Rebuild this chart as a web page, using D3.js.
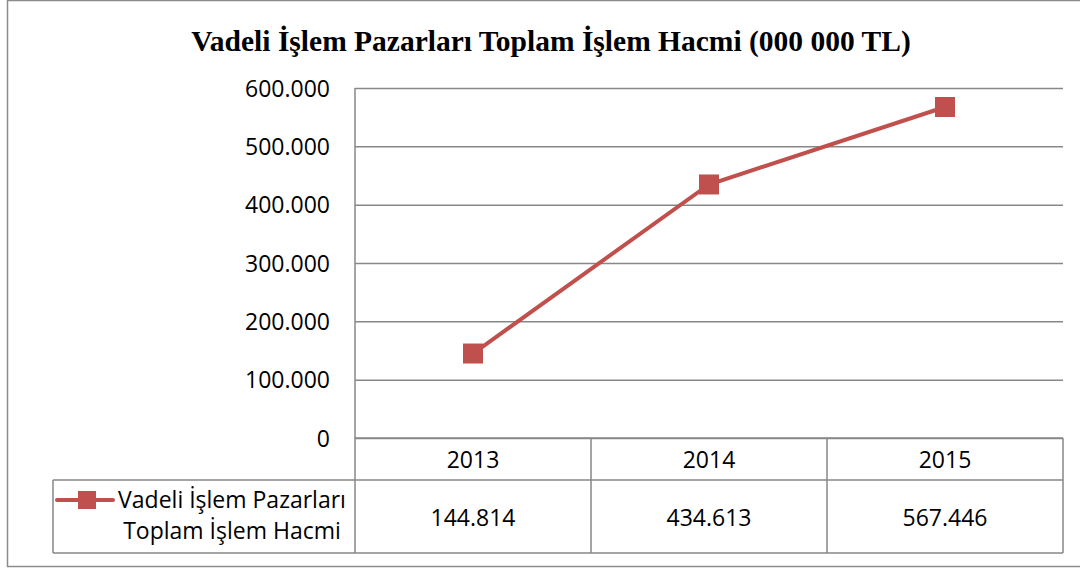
<!DOCTYPE html>
<html>
<head>
<meta charset="utf-8">
<script src="https://cdn.jsdelivr.net/npm/d3@7"></script>
<style>
  body { margin: 0; background: #fff; }
  text { fill: #000; }
</style>
</head>
<body>
<div id="chart-area"></div>
<script>
// data
var years = ["2013", "2014", "2015"];
var volumes = [144814, 434613, 567446];
var yTicks = [0, 100000, 200000, 300000, 400000, 500000, 600000];
var seriesName = ["Vadeli İşlem Pazarları", "Toplam İşlem Hacmi"];
var title = "Vadeli İşlem Pazarları Toplam İşlem Hacmi (000 000 TL)";

var W = 1080, H = 570;
var margin = {top: 88, right: 17, bottom: 132, left: 355};
var width = W - margin.left - margin.right,
    height = H - margin.top - margin.bottom;

var tr = d3.formatLocale({decimal: ",", thousands: ".", grouping: [3], currency: ["", " TL"]});
var fmt = tr.format(",d");

var red = "#c0504d", grid = "#878787";
var labelFont = "'Open Sans', 'Noto Sans', sans-serif";
var labelSize = "23px";

var svg = d3.select("#chart-area").append("svg")
    .attr("width", W)
    .attr("height", H);

// outer frame
svg.append("rect")
    .attr("x", 7.5).attr("y", 0.5)
    .attr("width", W + 10).attr("height", 566)
    .attr("fill", "none")
    .attr("stroke", "#8c8c8c")
    .attr("stroke-width", 1.5);

svg.append("text")
    .attr("x", 551).attr("y", 51)
    .attr("text-anchor", "middle")
    .style("font-family", "'Liberation Serif', 'Times New Roman', serif")
    .style("font-weight", "bold")
    .style("font-size", "29.5px")
    .text(title);

var g = svg.append("g")
    .attr("transform", "translate(" + margin.left + "," + margin.top + ")");

// scales
var x = d3.scaleBand()
    .domain(years)
    .range([0, width]);

var y = d3.scaleLinear()
    .domain([0, 600000])
    .range([height, 0]);

// y axis + gridlines
var yAxis = d3.axisLeft(y)
    .tickValues(yTicks)
    .tickSize(-width)
    .tickPadding(25)
    .tickFormat(fmt);

var yAxisGroup = g.append("g")
    .attr("class", "axis y-axis")
    .call(yAxis);

yAxisGroup.select(".domain").remove();
yAxisGroup.selectAll(".tick line")
    .attr("stroke", grid)
    .attr("stroke-width", 1.5);
yAxisGroup.selectAll(".tick text")
    .style("font-family", labelFont)
    .style("font-size", labelSize)
    .attr("dy", "0.36em");

// data table below
var rowTop = height, rowMid = height + 42, rowBot = height + 115;
var table = g.append("g").attr("class", "table")
    .attr("stroke", grid).attr("stroke-width", 1.5).attr("fill", "none");

// left axis line runs down through the table
table.append("line")
    .attr("x1", 0).attr("x2", 0)
    .attr("y1", 0).attr("y2", rowBot);
// horizontal rules
table.append("line").attr("x1", 0).attr("x2", width).attr("y1", rowTop).attr("y2", rowTop);
table.append("line").attr("x1", -302).attr("x2", width).attr("y1", rowMid).attr("y2", rowMid);
table.append("line").attr("x1", -302).attr("x2", width).attr("y1", rowBot).attr("y2", rowBot);
table.append("line").attr("x1", -302).attr("x2", -302).attr("y1", rowMid).attr("y2", rowBot);
// column dividers
table.selectAll(".col")
    .data(years)
    .enter().append("line")
    .attr("class", "col")
    .attr("x1", function(d) { return x(d) + x.bandwidth(); })
    .attr("x2", function(d) { return x(d) + x.bandwidth(); })
    .attr("y1", rowTop).attr("y2", rowBot);

g.selectAll(".yr")
    .data(years)
    .enter().append("text")
    .attr("class", "yr")
    .attr("x", function(d) { return x(d) + x.bandwidth() / 2; })
    .attr("y", rowTop + 30)
    .attr("text-anchor", "middle")
    .style("font-family", labelFont)
    .style("font-size", labelSize)
    .text(function(d) { return d; });

g.selectAll(".val")
    .data(volumes)
    .enter().append("text")
    .attr("class", "val")
    .attr("x", function(d, i) { return x(years[i]) + x.bandwidth() / 2; })
    .attr("y", rowMid + 46)
    .attr("text-anchor", "middle")
    .style("font-family", labelFont)
    .style("font-size", labelSize)
    .text(function(d) { return fmt(d); });

// legend key in the table
var key = g.append("g").attr("transform", "translate(-268," + (rowMid + 20) + ")");
key.append("line")
    .attr("x1", -30).attr("x2", 26)
    .attr("stroke", red).attr("stroke-width", 4).attr("stroke-linecap", "round");
key.append("rect")
    .attr("x", -9).attr("y", -9).attr("width", 18).attr("height", 18)
    .attr("fill", red);

g.selectAll(".leg")
    .data(seriesName)
    .enter().append("text")
    .attr("class", "leg")
    .attr("x", -123)
    .attr("y", function(d, i) { return rowMid + 28 + i * 31; })
    .attr("text-anchor", "middle")
    .style("font-family", labelFont)
    .style("font-size", labelSize)
    .text(function(d) { return d; });

// series line
var line = d3.line()
    .x(function(d, i) { return x(years[i]) + x.bandwidth() / 2; })
    .y(function(d) { return y(d); });

g.append("path")
    .datum(volumes)
    .attr("fill", "none")
    .attr("stroke", red)
    .attr("stroke-width", 4)
    .attr("d", line);

g.selectAll(".pt")
    .data(volumes)
    .enter().append("rect")
    .attr("class", "pt")
    .attr("x", function(d, i) { return x(years[i]) + x.bandwidth() / 2 - 10; })
    .attr("y", function(d) { return y(d) - 10; })
    .attr("width", 20).attr("height", 20)
    .attr("fill", red);
</script>
</body>
</html>
